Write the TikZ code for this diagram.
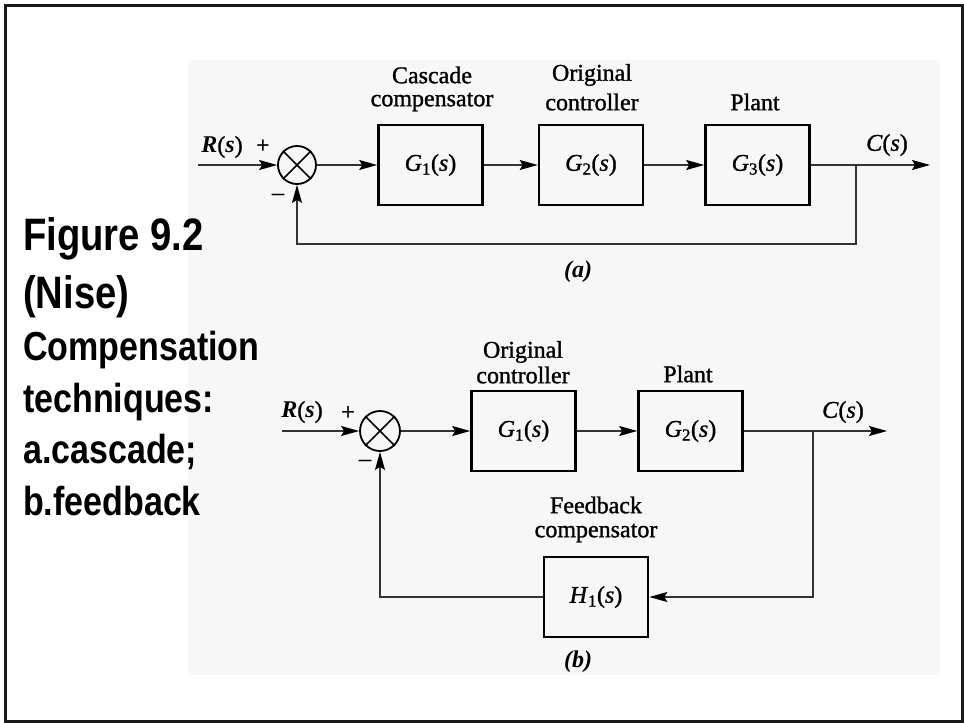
\documentclass[tikz,border=0pt]{standalone}
\usepackage{fontspec}
\setmainfont{Liberation Serif}[UprightFeatures={FakeBold=1.2},ItalicFeatures={FakeBold=1.2}]
\newfontfamily\sansf{Liberation Sans}
\usetikzlibrary{arrows.meta}
\begin{document}
\begin{tikzpicture}[x=1pt,y=-1pt,
  blk/.style={draw=black,line width=2.6pt,minimum width=104pt,minimum height=80pt,inner sep=0pt,font=\fontsize{24}{24}\selectfont},
  sig/.style={draw=black!80,line width=1.3pt},
  arr/.style={sig,-{Stealth[length=18pt,width=10pt,inset=3pt,color=black]}},
  sumj/.style={circle,draw=black,line width=1.8pt,minimum size=38pt,inner sep=0pt},
  lbl/.style={font=\fontsize{24}{24}\selectfont,inner sep=0pt},
  bigtxt/.style={font=\sansf\bfseries\fontsize{45.5}{45.5}\selectfont,anchor=base west,inner sep=0pt,xscale=0.84},
  smalltxt/.style={font=\sansf\bfseries\fontsize{40.5}{40.5}\selectfont,anchor=base west,inner sep=0pt,xscale=0.84},
]
\useasboundingbox (0,0) rectangle (964,723);
\fill[white] (0,0) rectangle (964,723);
\fill[black!3] (188,60) rectangle (940,675);
\draw[line width=3pt,black!90] (5.5,5.5) rectangle (962,721.5);

% left caption
\node[bigtxt] (t1) at (23,250) {Figure 9.2};
\node[bigtxt] (t2) at (23,308) {(Nise)};
\node[smalltxt] (t3) at (23,360) {Compensation};
\node[smalltxt] (t4) at (23,412) {techniques:};
\node[smalltxt] (t5) at (23,463) {a.cascade;};
\node[smalltxt] (t6) at (23,515) {b.feedback};

% ---------- (a) ----------
\node[sumj] (sa) at (297,165) {};
\draw[line width=1.5pt] (sa.45)--(sa.225) (sa.135)--(sa.315);
\node[blk] (g1a) at (430.5,165) {\textit{G}\textsubscript{1}(\textit{s})};
\node[blk] (g2a) at (591,165) {\textit{G}\textsubscript{2}(\textit{s})};
\node[blk] (g3a) at (757.5,165) {\textit{G}\textsubscript{3}(\textit{s})};
\coordinate (ina) at (198,165);
\coordinate (bra) at (856,165);
\coordinate (outa) at (930,165);
\coordinate (fba) at (856,244);
\draw[arr] (ina) -- (sa);
\draw[arr] (sa) -- (g1a);
\draw[arr] (g1a) -- (g2a);
\draw[arr] (g2a) -- (g3a);
\draw[arr] (g3a) -- (outa);
\draw[arr] (bra) -- (fba) -| (sa.south);

\node[lbl] (la1) at (432,75) {Cascade};
\node[lbl] (la2) at (432,102) {compensator};
\node[lbl] (la3) at (592,75) {Original};
\node[lbl] (la4) at (592,102) {controller};
\node[lbl] (la5) at (755,102) {Plant};
\node[lbl] (ra) at (222,147) {\textbf{\textit{R}}(\textbf{\textit{s}})};
\node[lbl] (pa) at (263,147) {\textbf{+}};
\node[lbl] (ma) at (278,197) {–};
\node[lbl] (ca) at (887,145) {\textit{C}(\textit{s})};
\node[lbl] (capa) at (578,272) {\textbf{\textit{(a)}}};

% ---------- (b) ----------
\node[sumj,minimum size=40pt] (sb) at (380,431) {};
\draw[line width=1.5pt] (sb.45)--(sb.225) (sb.135)--(sb.315);
\node[blk] (g1b) at (523.5,431) {\textit{G}\textsubscript{1}(\textit{s})};
\node[blk] (g2b) at (690.5,431) {\textit{G}\textsubscript{2}(\textit{s})};
\node[blk] (h1b) at (596,597) {\textit{H}\textsubscript{1}(\textit{s})};
\coordinate (inb) at (282,431);
\coordinate (brb) at (813,431);
\coordinate (outb) at (887,431);
\coordinate (fbb) at (813,597);
\draw[arr] (inb) -- (sb);
\draw[arr] (sb) -- (g1b);
\draw[arr] (g1b) -- (g2b);
\draw[arr] (g2b) -- (outb);
\draw[arr] (brb) -- (fbb) -- (h1b);
\draw[arr] (h1b.west) -| (sb.south);

\node[lbl] (lb1) at (523,352) {Original};
\node[lbl] (lb2) at (523,375) {controller};
\node[lbl] (lb3) at (688,374) {Plant};
\node[lbl] (lb4) at (596,505) {Feedback};
\node[lbl] (lb5) at (596,533) {compensator};
\node[lbl] (rb) at (302,412) {\textbf{\textit{R}}(\textbf{\textit{s}})};
\node[lbl] (pb) at (348,413) {+};
\node[lbl] (mb) at (365,463) {–};
\node[lbl] (cb) at (843,412) {\textit{C}(\textit{s})};
\node[lbl] (capb) at (578,662) {\textbf{\textit{(b)}}};
\end{tikzpicture}
\end{document}
